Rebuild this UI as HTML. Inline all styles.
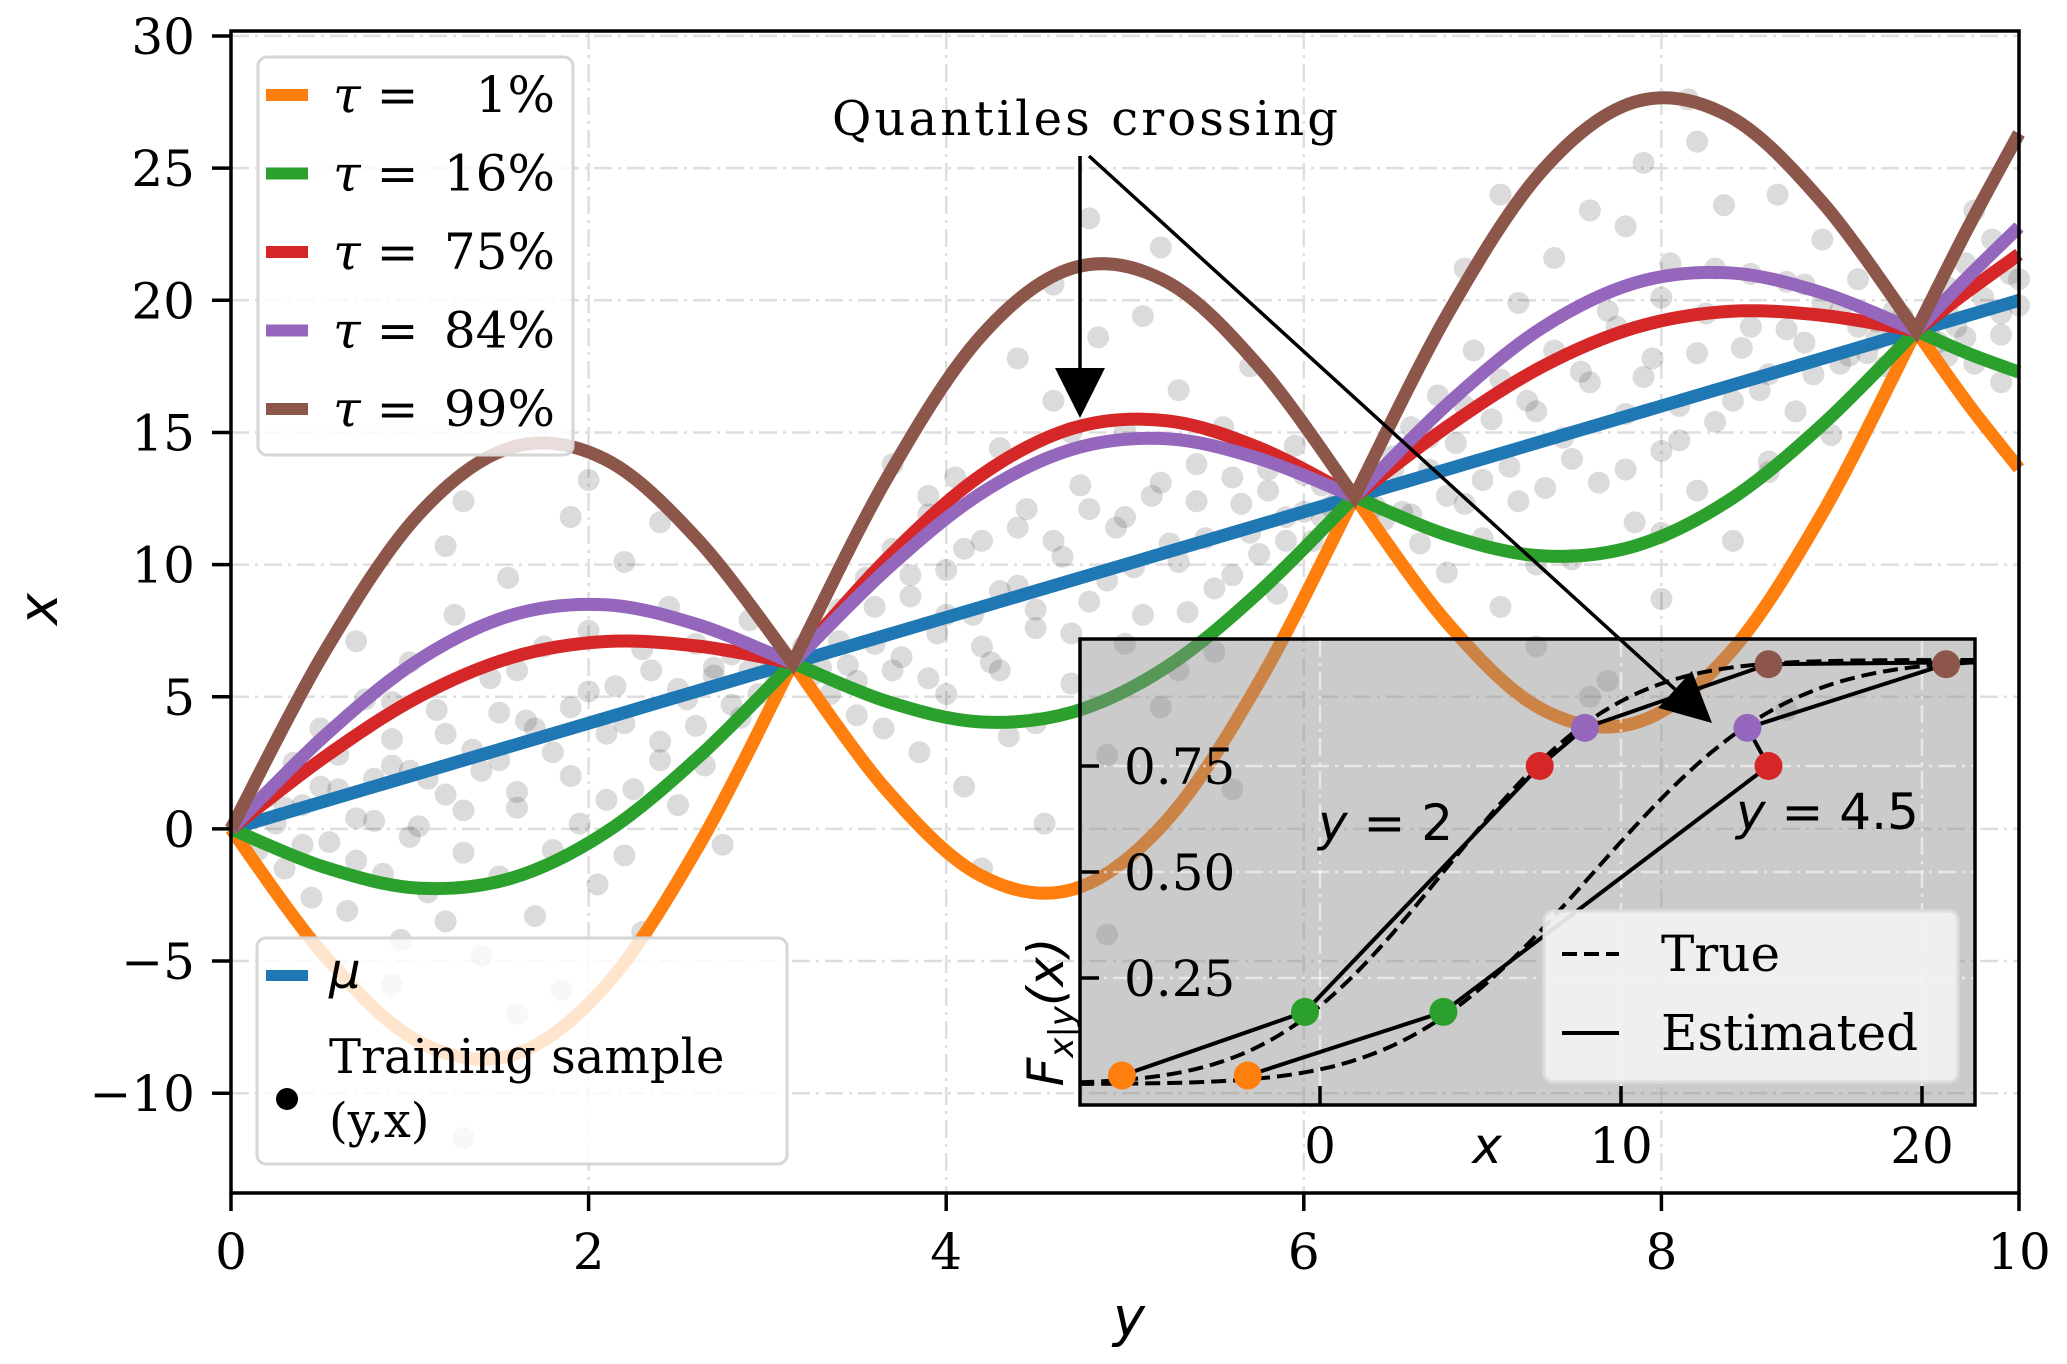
<!DOCTYPE html>
<html><head><meta charset="utf-8"><style>
html,body{margin:0;padding:0;background:#fff;}
svg{display:block;}
text{font-family:"DejaVu Serif","Liberation Serif",serif;fill:#000;}
.m{font-family:"DejaVu Sans","Liberation Sans",sans-serif;font-style:italic;}
</style></head><body>
<svg id="chart" xmlns="http://www.w3.org/2000/svg" width="2067" height="1364" viewBox="0 0 2067 1364">
<g id="grid"></g>
<g id="scatter"></g>
<g id="curves"></g>
<g id="legend1">
 <rect x="258" y="57" width="315" height="398" rx="9" fill="rgba(255,255,255,0.8)" stroke="#d6d6d6" stroke-width="3"/>
</g>
<g id="legend2">
 <rect x="257" y="938" width="530" height="226" rx="9" fill="rgba(255,255,255,0.8)" stroke="#d6d6d6" stroke-width="3"/>
 <rect x="266" y="970" width="42" height="11" fill="#1f77b4"/>
 <text class="m" x="329" y="988" font-size="50">μ</text>
 <circle cx="287" cy="1099" r="11" fill="#000"/>
 <text x="329" y="1073" font-size="48">Training sample</text>
 <text x="329" y="1137" font-size="48">(y,x)</text>
</g>
<g id="axes"></g>
<g id="inset"></g>
<g id="annot">
 <text x="1085" y="135" font-size="48" text-anchor="middle" textLength="506">Quantiles crossing</text>
</g>
</svg>
<script>
const NS='http://www.w3.org/2000/svg';
// ---- main chart data ----
const xTicks=[0,2,4,6,8,10];
const yTicks=[-10,-5,0,5,10,15,20,25,30];
const cuspYs=[3.1416,6.2832,9.4248];
const muEnds=[[0,0],[10,20]];
const gridY=[0,0.5236,1.0472,1.5708,2.0944,2.618,3.1416,3.6652,4.1888,4.7124,5.236,5.7596,6.2832,6.8068,7.3304,7.854,8.3776,8.9012,9.4248,9.712,10];
const q01V=[0,-4.80,-8.04,-8.56,-5.94,-0.61,6.28,1.48,-1.75,-2.28,0.34,5.67,12.57,7.76,4.53,4.01,6.62,11.95,18.85,16.11,13.64];
const q16V=[0,-1.45,-2.24,-1.86,-0.14,2.74,6.28,4.83,4.05,4.43,6.14,9.02,12.57,11.11,10.33,10.71,12.43,15.30,18.85,18.0,17.28];
const q75V=[0,2.72,4.99,6.49,7.09,6.91,6.28,10.20,13.35,15.17,15.44,14.39,12.57,15.24,17.48,18.97,19.58,19.43,18.85,20.33,21.74];
const q84V=[0,3.52,6.38,8.09,8.48,7.71,6.28,9.81,12.67,14.38,14.76,13.99,12.57,16.09,18.95,20.66,21.04,20.28,18.85,20.87,22.77];
const q99V=[0,6.70,11.88,14.44,13.98,10.89,6.28,13.23,18.60,21.23,20.69,17.42,12.57,19.51,24.88,27.51,26.97,23.70,18.85,22.71,26.31];
const legendLabels=['1%','16%','75%','84%','99%'];
const sampleY=[0.1,0.15,0.2,0.25,0.3,0.35,0.4,0.45,0.5,0.5,0.55,0.6,0.65,0.7,0.75,0.8,0.85,0.9,0.95,1.0,1.0,1.05,1.1,1.15,1.2,1.25,1.3,1.35,1.4,1.45,1.5,1.5,1.55,1.6,1.65,1.7,1.75,1.8,1.85,1.9,1.9,1.95,2.0,2.05,2.1,2.15,2.2,2.25,2.3,2.35,2.4,2.45,2.5,2.55,2.6,2.65,2.7,2.75,2.8,2.85,2.9,2.95,3.0,3.05,3.1,1.3,0.9,1.6,2.0,1.2,2.4,0.7,1.3,
3.2,3.25,3.3,3.35,3.4,3.45,3.5,3.55,3.6,3.65,3.7,3.75,3.8,3.85,3.9,3.95,4.0,4.0,4.05,4.1,4.15,4.2,4.25,4.3,4.35,4.4,4.45,4.5,4.55,4.6,4.65,4.7,4.75,4.8,4.8,4.85,4.9,4.95,5.0,5.0,5.05,5.1,5.15,5.2,5.25,5.3,5.35,5.4,5.45,5.5,5.55,5.6,5.65,5.7,5.75,5.8,5.85,5.9,5.95,6.0,6.05,6.1,6.15,6.2,4.4,5.2,4.2,5.6,4.9,3.7,4.6,
6.35,6.4,6.45,6.5,6.55,6.6,6.65,6.7,6.75,6.8,6.85,6.9,6.95,7.0,7.05,7.1,7.15,7.2,7.25,7.3,7.35,7.4,7.45,7.5,7.55,7.6,7.65,7.7,7.75,7.8,7.85,7.9,7.95,8.0,8.0,8.05,8.1,8.15,8.2,8.25,8.3,8.35,8.4,8.45,8.5,8.55,8.6,8.65,8.7,8.75,8.8,8.85,8.9,8.95,9.0,9.05,9.1,9.15,9.2,9.25,9.3,9.35,7.1,7.6,8.2,8.7,6.9,
9.5,9.55,9.6,9.65,9.7,9.75,9.8,9.85,9.9,9.95,10.0,9.6,9.75,9.9,
0.3,0.4,0.6,0.7,0.8,0.9,1.0,1.1,1.2,1.3,1.4,1.5,1.6,1.7,1.8,1.9,2.0,2.1,2.2,2.3,2.4,2.5,2.6,2.7,2.8,2.9,1.2,1.6,2.2,0.9,
3.3,3.4,3.5,3.6,3.7,3.8,3.9,4.0,4.1,4.2,4.3,4.4,4.5,4.6,4.7,4.8,4.9,5.0,5.1,5.2,5.3,5.4,5.5,5.6,5.7,5.8,5.9,6.0,6.1,4.3,4.7,5.3,3.9,4.5,
6.4,6.5,6.6,6.7,6.8,6.9,7.0,7.1,7.2,7.3,7.4,7.5,7.6,7.7,7.8,7.9,8.0,8.1,8.2,8.3,8.4,8.5,8.6,8.7,8.8,8.9,9.0,9.1,9.2,9.3,7.3,8.0,8.6,7.8,
9.5,9.6,9.7,9.8,9.9,10.0];
const sampleX=[0.5,-0.8,1.2,0.2,-1.5,2.5,0.9,-2.6,1.6,3.8,-0.5,2.8,-3.1,0.4,4.9,1.9,-1.7,3.4,-4.2,2.2,6.3,0.1,-2.4,4.5,1.3,8.1,-0.9,3.0,-4.8,5.7,2.6,-1.8,9.5,0.8,4.1,-3.3,6.9,2.9,-6.1,11.8,4.6,0.2,7.5,-2.1,3.6,5.4,10.1,1.5,-3.9,6.0,3.3,8.4,0.9,4.9,7.0,2.4,5.8,-0.6,6.6,4.2,7.9,5.1,6.5,5.6,6.4,12.4,-5.9,-7.0,13.2,10.7,11.6,7.1,-11.7,
6.9,5.8,7.6,5.1,8.3,6.2,4.3,9.5,7.0,3.8,10.6,6.5,8.8,2.9,11.9,7.4,5.1,9.8,13.3,1.6,8.1,10.9,6.3,14.4,3.5,9.2,12.1,7.6,0.2,16.2,10.3,5.5,13.0,8.6,23.1,18.6,2.8,11.4,15.1,7.0,9.9,19.4,12.6,4.6,10.8,16.6,8.2,13.8,11.0,6.7,15.2,9.6,12.3,17.5,10.4,13.6,8.9,11.8,14.5,12.0,10.9,13.0,12.2,12.6,17.8,22.0,-1.5,1.5,-4.0,13.8,20.6,
12.5,13.4,11.7,14.1,12.0,15.2,10.8,13.6,16.4,9.7,14.6,12.3,18.1,11.0,15.5,8.4,13.7,19.9,16.2,6.9,12.9,21.6,14.8,10.2,17.3,23.4,13.1,5.6,19.0,15.7,11.6,25.2,17.8,14.3,8.7,21.4,16.0,27.6,12.8,19.5,15.4,23.6,10.9,18.2,21.0,16.6,13.5,24.0,18.9,15.8,20.6,17.2,22.3,14.9,19.6,17.9,20.8,18.0,19.2,17.5,18.7,19.4,24.0,5.0,26.0,4.5,21.2,
19.3,18.4,20.5,19.0,21.4,17.6,20.1,22.3,18.7,21.0,19.8,17.9,23.4,16.9,
0.8,-0.6,1.5,-1.2,0.3,2.4,-0.3,1.9,3.6,0.7,2.2,4.4,1.4,3.8,-0.8,2.0,5.2,1.1,4.0,6.8,2.6,5.3,3.9,6.1,4.7,6.0,-3.5,6.0,-1.0,4.8,
6.1,7.1,5.6,8.4,6.0,9.6,5.7,8.1,10.6,6.9,9.0,11.4,8.3,10.9,7.4,12.1,9.4,11.8,8.1,13.1,10.1,12.4,9.1,13.3,11.2,12.8,10.9,13.4,11.8,6.0,15.0,6.0,12.6,4.0,
12.2,13.6,11.9,14.8,12.6,16.0,13.2,17.0,12.4,15.8,18.1,14.0,16.9,19.6,13.6,17.1,20.1,14.7,18.0,21.2,16.2,19.0,17.2,20.7,18.4,19.9,17.6,19.0,18.5,19.6,10.0,11.2,13.9,22.8,
18.9,19.6,18.6,21.0,19.5,20.8];
// ---- inset data ----
const insetXTicks=[0,10,20];
const insetYTicks=[0.25,0.5,0.75];
const estX_y2=[-6.58,-0.5,7.3,8.8,14.9];
const estX_y45=[-2.4,4.1,14.9,14.2,20.8];
const estF=[0.02,0.17,0.75,0.84,0.99];
const trueMean=[4.1,9.1];
const trueSd=[4.55,5.0];
const dotColors=['#ff7f0e','#2ca02c','#d62728','#9467bd','#8c564b'];

const px=v=>231+v*178.8;
const py=v=>36+(30-v)*26.43;
const ix=v=>1320+v*30.1;
const iy=v=>1084-v*424;

function mk(tag,attrs,parent){const e=document.createElementNS(NS,tag);for(const k in attrs)e.setAttribute(k,attrs[k]);parent.appendChild(e);return e;}

// grid
const grid=document.getElementById('grid');
xTicks.forEach(t=>{const l=mk('line',{x1:px(t),x2:px(t),y1:31,y2:1193,stroke:'#dedede','stroke-width':2.5,'stroke-dasharray':'18,6,3,6'},grid);

});
yTicks.forEach(t=>{const l=mk('line',{x1:231,x2:2019,y1:py(t),y2:py(t),stroke:'#dedede','stroke-width':2.5,'stroke-dasharray':'18,6,3,6'},grid);

});

// scatter
const sc=document.getElementById('scatter');
sampleY.forEach((y,i)=>{const c=mk('circle',{cx:px(y),cy:py(sampleX[i]),r:11,fill:'#000','fill-opacity':0.14},sc);

});

// curves
function curvePath(ys,vs){
  const pts=ys.map((y,i)=>[px(y),py(vs[i])]);
  const segs=[];let cur=[pts[0]];
  for(let i=1;i<pts.length;i++){cur.push(pts[i]);if(cuspYs.some(c=>Math.abs(c-ys[i])<1e-3)&&i<pts.length-1){segs.push(cur);cur=[pts[i]];}}
  segs.push(cur);
  let d='';
  segs.forEach((s,si)=>{
    if(si===0)d+='M'+s[0][0]+','+s[0][1];
    for(let i=0;i<s.length-1;i++){
      const p0=s[i-1]||s[i],p1=s[i],p2=s[i+1],p3=s[i+2]||s[i+1];
      const c1=[p1[0]+(p2[0]-p0[0])/6,p1[1]+(p2[1]-p0[1])/6];
      const c2=[p2[0]-(p3[0]-p1[0])/6,p2[1]-(p3[1]-p1[1])/6];
      d+=' C'+c1[0]+','+c1[1]+' '+c2[0]+','+c2[1]+' '+p2[0]+','+p2[1];
    }
  });
  return d;
}
const cv=document.getElementById('curves');
const mu=mk('line',{x1:px(muEnds[0][0]),y1:py(muEnds[0][1]),x2:px(muEnds[1][0]),y2:py(muEnds[1][1]),stroke:'#1f77b4','stroke-width':13},cv);


const series=[[gridY,q01V,'#ff7f0e','q01'],[gridY,q16V,'#2ca02c','q16'],[gridY,q75V,'#d62728','q75'],[gridY,q84V,'#9467bd','q84'],[gridY,q99V,'#8c564b','q99']];
series.forEach(s=>{const p=mk('path',{d:curvePath(s[0],s[1]),fill:'none',stroke:s[2],'stroke-width':13,'stroke-linejoin':'miter','stroke-miterlimit':4},cv);

});

// legend 1 entries
const lg=document.getElementById('legend1');
legendLabels.forEach((lab,i)=>{const yy=95+i*78.5;
 const r=mk('rect',{x:266,y:yy-6,width:42,height:12,fill:series[i][2]},lg);
 
 
 const t1=mk('text',{x:333,y:yy+17,'font-size':50},lg);
 const ts=mk('tspan',{'font-style':'italic'},t1);ts.textContent='τ';
 const ts2=mk('tspan',{},t1);ts2.textContent=' =';
 
 
 const t2=mk('text',{x:555,y:yy+17,'font-size':50,'text-anchor':'end'},lg);t2.textContent=lab;
 
 
});

// axes
const ax=document.getElementById('axes');
mk('rect',{x:231,y:31,width:1788,height:1162,fill:'none',stroke:'#000','stroke-width':3.5},ax);
xTicks.forEach(t=>{mk('line',{x1:px(t),x2:px(t),y1:1193,y2:1211,stroke:'#000','stroke-width':3.5},ax);
 const tx=mk('text',{x:px(t),y:1269,'font-size':50,'text-anchor':'middle'},ax);tx.textContent=String(t);
 
 });
yTicks.forEach(t=>{mk('line',{x1:212,x2:231,y1:py(t),y2:py(t),stroke:'#000','stroke-width':3.5},ax);
 const tx=mk('text',{x:195,y:py(t)+18,'font-size':50,'text-anchor':'end'},ax);tx.textContent=(t<0?'−':'')+Math.abs(t);
 
 });
const xl=mk('text',{x:1129,y:1336,'font-size':54,'text-anchor':'middle',class:'m'},ax);xl.textContent='y';


const yl=mk('text',{x:0,y:0,'font-size':54,'text-anchor':'middle',class:'m',transform:'translate(57,609) rotate(-90)'},ax);yl.textContent='x';



// inset
const ins=document.getElementById('inset');
mk('rect',{x:1080,y:639,width:895,height:466,fill:'rgba(140,140,140,0.45)'},ins);
insetXTicks.forEach(t=>{mk('line',{x1:ix(t),x2:ix(t),y1:639,y2:1105,stroke:'rgba(255,255,255,0.55)','stroke-width':2.5,'stroke-dasharray':'18,6,3,6'},ins);});
insetYTicks.forEach(t=>{mk('line',{x1:1080,x2:1975,y1:iy(t),y2:iy(t),stroke:'rgba(255,255,255,0.55)','stroke-width':2.5,'stroke-dasharray':'18,6,3,6'},ins);});
function erf(x){const s=Math.sign(x);x=Math.abs(x);const t=1/(1+0.3275911*x);const y=1-(((((1.061405429*t-1.453152027)*t)+1.421413741)*t-0.284496736)*t+0.254829592)*t*Math.exp(-x*x);return s*y;}
const ncdf=(x,m,s)=>0.5*(1+erf((x-m)/(s*Math.SQRT2)));
trueMean.forEach((m,k)=>{let d='';for(let v=-8;v<=21.8;v+=0.2){d+=(d?'L':'M')+ix(v)+','+iy(ncdf(v,m,trueSd[k]));}
 const p=mk('path',{d:d,fill:'none',stroke:'#000','stroke-width':4,'stroke-dasharray':'15,7'},ins);
 
 });
[estX_y2,estX_y45].forEach((arr,k)=>{const d=arr.map((v,i)=>(i?'L':'M')+ix(v)+','+iy(estF[i])).join(' ')+' L'+ix(21.8)+','+iy(estF[4]+0.005);
 const p=mk('path',{d:d,fill:'none',stroke:'#000','stroke-width':4},ins);
 
 
 arr.forEach((v,i)=>{const c=mk('circle',{cx:ix(v),cy:iy(estF[i]),r:14,fill:dotColors[i]},ins);
  
  });});
// inset legend
const il=mk('g',{},ins);


mk('rect',{x:1544,y:911,width:414,height:171,rx:9,fill:'rgba(242,242,242,0.92)',stroke:'#dcdcdc','stroke-width':3},il);
mk('line',{x1:1562,x2:1619,y1:954,y2:954,stroke:'#000','stroke-width':4,'stroke-dasharray':'15,7'},il);
mk('line',{x1:1562,x2:1619,y1:1033,y2:1033,stroke:'#000','stroke-width':4},il);
const lt1=mk('text',{x:1661,y:971,'font-size':50},il);lt1.textContent='True';
const lt2=mk('text',{x:1661,y:1050,'font-size':50},il);lt2.textContent='Estimated';
// inset axes
mk('rect',{x:1080,y:639,width:895,height:466,fill:'none',stroke:'#000','stroke-width':3.5},ins);
insetXTicks.forEach(t=>{mk('line',{x1:ix(t),x2:ix(t),y1:1105,y2:1086,stroke:'#000','stroke-width':3.5},ins);
 const tx=mk('text',{x:ix(t),y:1163,'font-size':50,'text-anchor':'middle'},ins);tx.textContent=String(t);
 
 });
insetYTicks.forEach(t=>{mk('line',{x1:1080,x2:1099,y1:iy(t),y2:iy(t),stroke:'#000','stroke-width':3.5},ins);
 const tx=mk('text',{x:1124,y:iy(t)+18,'font-size':50},ins);tx.textContent=t.toFixed(2);
 
 });
const ixl=mk('text',{x:1487,y:1163,'font-size':50,'text-anchor':'middle',class:'m'},ins);ixl.textContent='x';


const iyl=mk('text',{x:0,y:0,'font-size':50,'text-anchor':'middle',class:'m',transform:'translate(1063,1012) rotate(-90)'},ins);
mk('tspan',{},iyl).textContent='F';
const sub=mk('tspan',{'font-size':34,dy:10},iyl);sub.textContent='x|y';
const rest=mk('tspan',{dy:-10},iyl);rest.textContent='(x)';


const a1=mk('text',{x:1318,y:840,'font-size':50,class:'m'},ins);a1.textContent='y';
mk('tspan',{'font-style':'normal'},a1).textContent=' = 2';


const a2=mk('text',{x:1736,y:829,'font-size':50,class:'m'},ins);a2.textContent='y';
mk('tspan',{'font-style':'normal'},a2).textContent=' = 4.5';



// annotation arrows
const an=document.getElementById('annot');
mk('line',{x1:1080,y1:156,x2:1080,y2:372,stroke:'#000','stroke-width':3.5},an);
mk('polygon',{points:'1055,368 1105,368 1080,418',fill:'#000'},an);
const sx=1089,sy=156,tx2=1712,ty2=723;const L=Math.hypot(tx2-sx,ty2-sy),ux=(tx2-sx)/L,uy=(ty2-sy)/L;
const bx=tx2-ux*50,by=ty2-uy*50;
mk('line',{x1:sx,y1:sy,x2:bx,y2:by,stroke:'#000','stroke-width':3.5},an);
mk('polygon',{points:`${bx-uy*25},${by+ux*25} ${bx+uy*25},${by-ux*25} ${tx2},${ty2}`,fill:'#000'},an);
</script>
</body></html>
